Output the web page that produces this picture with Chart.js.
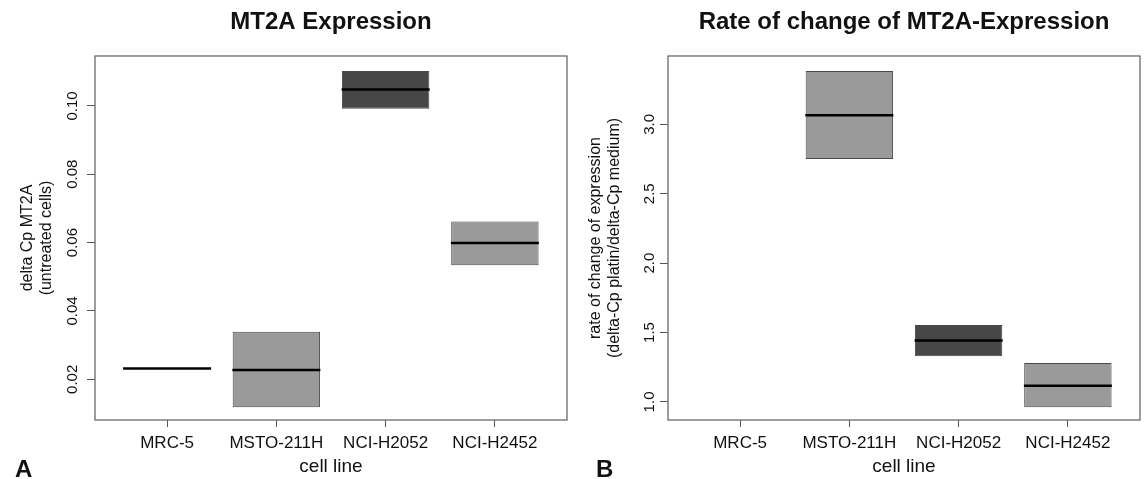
<!DOCTYPE html>
<html>
<head>
<meta charset="utf-8">
<script src="https://cdn.jsdelivr.net/npm/chart.js@4/dist/chart.umd.min.js"></script>
<style>
body { margin: 0; background: #fff; }
#wrap { position: relative; width: 1146px; height: 479px; }
canvas { position: absolute; top: 0; }
#chartA { left: 0; }
#chartB { left: 573px; }
</style>
</head>
<body>
<div id="wrap">
  <canvas id="chartA" width="573" height="479"></canvas>
  <canvas id="chartB" width="573" height="479"></canvas>
</div>
<script>
var cellLines = ['MRC-5', 'MSTO-211H', 'NCI-H2052', 'NCI-H2452'];
var boxColors = [null, '#9a9a9a', '#474747', '#9a9a9a'];

// A: delta Cp MT2A (untreated cells)
var exprLow = [null, 0.0118, 0.0992, 0.0534];
var exprHigh = [null, 0.0339, 0.1102, 0.0662];
var exprMedian = [0.0232, 0.0227, 0.1048, 0.0599];
var exprTicks = [0.02, 0.04, 0.06, 0.08, 0.10];

// B: rate of change (platin / medium)
var rateLow = [null, 2.750, 1.329, 0.962];
var rateHigh = [null, 3.384, 1.555, 1.281];
var rateMedian = [null, 3.065, 1.442, 1.117];
var rateTicks = [1.0, 1.5, 2.0, 2.5, 3.0];

Chart.defaults.font.family = "'Liberation Sans', Arial, sans-serif";
Chart.defaults.color = '#111';

var framePlugin = {
    id: 'frame',
    beforeDatasetsDraw: function (chart) {
        var a = chart.chartArea, ctx = chart.ctx;
        ctx.save();
        ctx.strokeStyle = '#6a6a6a';
        ctx.lineWidth = 1.3;
        ctx.strokeRect(a.left, a.top, a.right - a.left, a.bottom - a.top);
        ctx.restore();
    }
};

var headingPlugin = {
    id: 'heading',
    afterDraw: function (chart, args, opts) {
        var a = chart.chartArea, ctx = chart.ctx;
        ctx.save();
        ctx.fillStyle = '#111';
        ctx.textAlign = 'center';
        ctx.textBaseline = 'middle';
        ctx.font = "bold 24px 'Liberation Sans', Arial, sans-serif";
        ctx.fillText(opts.text, (a.left + a.right) / 2, 22);
        ctx.textAlign = 'left';
        ctx.textBaseline = 'alphabetic';
        ctx.font = "bold 24px 'Liberation Sans', Arial, sans-serif";
        ctx.fillText(opts.letter, opts.letterX, 477);
        ctx.restore();
    }
};

function boxPoints(low, high) {
    var pts = [], cols = [];
    for (var i = 0; i < cellLines.length; i++) {
        if (low[i] === null) continue;
        pts.push({ x: i + 1, y: [low[i], high[i]] });
        cols.push(boxColors[i]);
    }
    return { pts: pts, cols: cols };
}

function medianPoints(med) {
    var pts = [];
    for (var i = 0; i < cellLines.length; i++) {
        if (med[i] === null) continue;
        pts.push({ x: i + 1, y: med[i] });
    }
    return pts;
}

function makeChart(id, cfg) {
    var box = boxPoints(cfg.low, cfg.high);
    return new Chart(document.getElementById(id), {
        data: {
            datasets: [{
                type: 'line',
                data: medianPoints(cfg.median),
                showLine: false,
                pointStyle: 'line',
                pointRadius: 44,
                pointHoverRadius: 44,
                pointBorderWidth: 2.5,
                pointBorderColor: '#000',
                borderColor: '#000',
                order: 0
            }, {
                type: 'bar',
                data: box.pts,
                backgroundColor: box.cols,
                borderColor: '#4a4a4a',
                borderWidth: 1,
                borderSkipped: false,
                barPercentage: 0.8,
                categoryPercentage: 1,
                order: 1
            }]
        },
        options: {
            responsive: false,
            animation: false,
            layout: { autoPadding: false, padding: { top: 56, right: 6, left: 0, bottom: 0 } },
            plugins: {
                legend: { display: false },
                tooltip: { enabled: false },
                heading: { text: cfg.title, letter: cfg.letter, letterX: cfg.letterX }
            },
            scales: {
                x: {
                    type: 'linear',
                    offset: false,
                    min: 0.34,
                    max: 4.66,
                    afterBuildTicks: function (s) {
                        s.ticks = cellLines.map(function (c, i) { return { value: i + 1 }; });
                    },
                    afterFit: function (s) {
                        s.height = 59;
                        s.paddingLeft = 0;
                        s.paddingRight = 0;
                    },
                    grid: { offset: false, drawOnChartArea: false, tickLength: 7, color: '#555' },
                    border: { display: false },
                    ticks: {
                        autoSkip: false, maxRotation: 0, minRotation: 0, padding: 6,
                        font: { size: 17 }, color: '#111',
                        callback: function (v, i) { return cellLines[i]; }
                    },
                    title: { display: true, text: 'cell line', font: { size: 19 }, color: '#111', padding: { top: 0, bottom: 1 } }
                },
                y: {
                    min: cfg.yMin,
                    max: cfg.yMax,
                    beginAtZero: false,
                    afterBuildTicks: function (s) {
                        s.ticks = cfg.ticks.map(function (v) { return { value: v }; });
                    },
                    afterFit: function (s) { s.width = cfg.yWidth; },
                    grid: { drawOnChartArea: false, tickLength: 8, color: '#555' },
                    border: { display: false },
                    ticks: {
                        minRotation: 90, maxRotation: 90, crossAlign: 'center', padding: cfg.tickPad,
                        font: { size: 15 }, color: '#111',
                        callback: function (v) { return v.toFixed(cfg.digits); }
                    },
                    title: { display: true, text: cfg.yTitle, font: { size: 16 }, color: '#111', padding: { top: cfg.titlePad, bottom: 0 } }
                }
            }
        },
        plugins: [framePlugin, headingPlugin]
    });
}

makeChart('chartA', {
    low: exprLow, high: exprHigh, median: exprMedian, ticks: exprTicks,
    yMin: 0.0081, yMax: 0.1146, digits: 2, yWidth: 95, tickPad: 0, titlePad: 18,
    yTitle: ['delta Cp MT2A', '(untreated cells)'],
    title: 'MT2A Expression', letter: 'A', letterX: 15
});

makeChart('chartB', {
    low: rateLow, high: rateHigh, median: rateMedian, ticks: rateTicks,
    yMin: 0.870, yMax: 3.492, digits: 1, yWidth: 95, tickPad: 0, titlePad: 13,
    yTitle: ['rate of change of expression', '(delta-Cp platin/delta-Cp medium)'],
    title: 'Rate of change of MT2A-Expression', letter: 'B', letterX: 23
});
</script>
</body>
</html>
